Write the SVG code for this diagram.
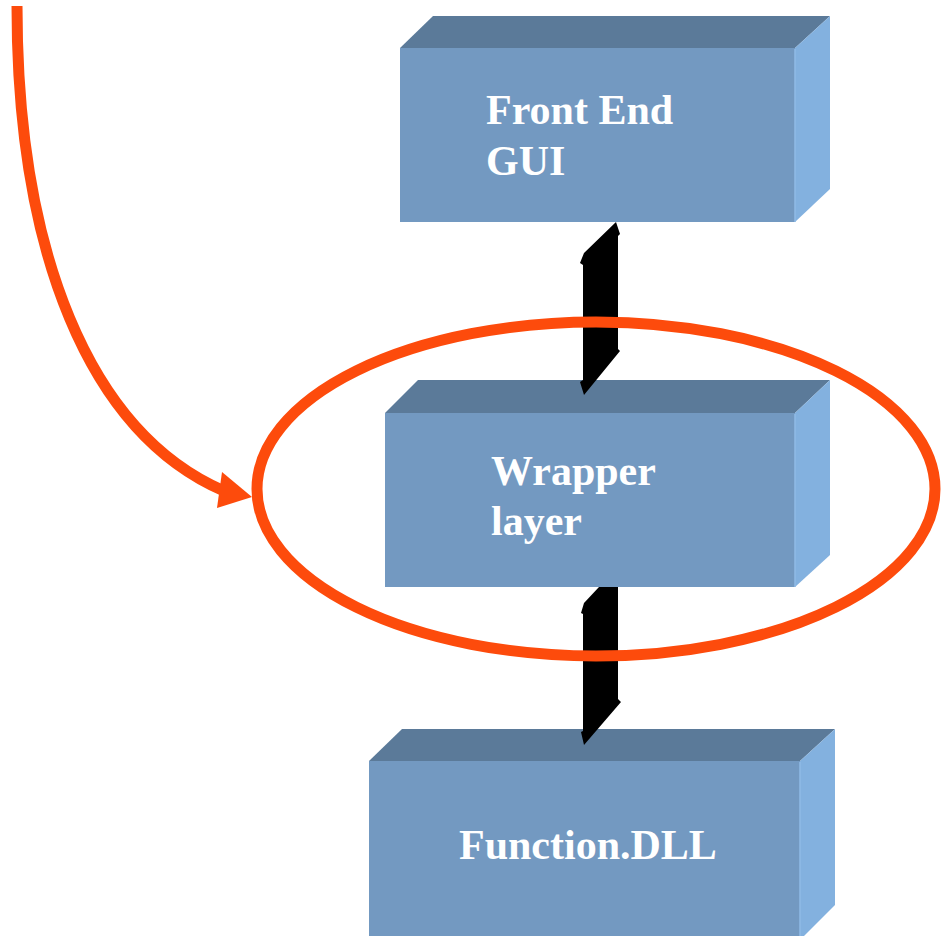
<svg xmlns="http://www.w3.org/2000/svg" width="941" height="936" viewBox="0 0 941 936">
  <style>
    .top { fill: #5B7A99; }
    .front { fill: #7399C1; }
    .side { fill: #83B1DF; }
    .edge { fill: none; stroke: #8FBBE6; stroke-width: 1.5; }
    .label { font-family: "Liberation Serif", "Times New Roman", serif; font-weight: bold; font-size: 42px; fill: #FFFFFF; }
    .link { fill: #000000; }
    .accent { fill: none; stroke: #FD4B0C; stroke-width: 11; }
  </style>

  <!-- Function.DLL block -->
  <g id="function-dll">
    <polygon class="top" points="369,761 402,729 835,729 800,761"/>
    <polygon class="side" points="800,761 835,729 835,905 800,940"/>
    <rect class="front" x="369" y="761" width="431" height="180"/>
    <line class="edge" x1="800" y1="762" x2="800" y2="936"/>
    <text class="label" x="459" y="859">Function.DLL</text>
  </g>

  <!-- Wrapper layer block -->
  <g id="wrapper-layer">
    <polygon class="top" points="385,413 418,380 830,380 795,413"/>
    <polygon class="side" points="795,413 830,380 830,555 795,587"/>
    <rect class="front" x="385" y="413" width="410" height="174"/>
    <line class="edge" x1="795" y1="414" x2="795" y2="587"/>
    <text class="label" x="491" y="485">Wrapper</text>
    <text class="label" x="491" y="535">layer</text>
  </g>

  <!-- Front End GUI block -->
  <g id="front-end-gui">
    <polygon class="top" points="400,48 433,16 830,16 795,48"/>
    <polygon class="side" points="795,48 830,16 830,189 795,222"/>
    <rect class="front" x="400" y="48" width="395" height="174"/>
    <line class="edge" x1="795" y1="49" x2="795" y2="222"/>
    <text class="label" x="486" y="124">Front End</text>
    <text class="label" x="486" y="175">GUI</text>
  </g>

  <!-- block links -->
  <g id="connectors">
    <polygon class="link" points="616,222 620,234 618,236 618,349 620,351 584,395 580,382 583,380 583,265 580,263 584,253"/>
    <polygon class="link" points="599,587 618,587 618,699 621,702 584,745 581,732 583,731 583,614 581,613 584,603"/>
  </g>

  <!-- highlight around the wrapper layer -->
  <g id="highlight">
    <ellipse class="accent" cx="596" cy="489" rx="339" ry="167"/>
    <path class="accent" d="M17,6 C17,250 88,432 224,491"/>
    <polygon fill="#FD4B0C" points="252,497 222,472 217,508"/>
  </g>
</svg>
